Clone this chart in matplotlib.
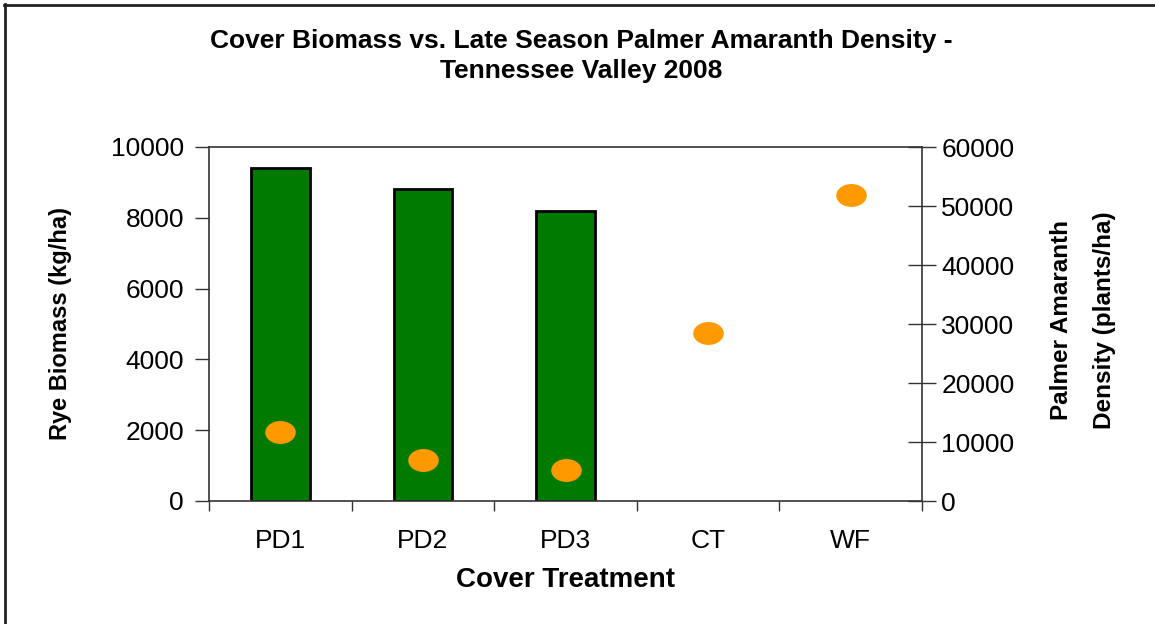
import matplotlib
matplotlib.use("Agg")
import matplotlib.pyplot as plt
import numpy as np
from matplotlib.path import Path
from matplotlib.lines import Line2D

categories = ["PD1", "PD2", "PD3", "CT", "WF"]
rye_biomass = [9400, 8800, 8200, 0, 0]
palmer_density = [11700, 6900, 5300, 28400, 51800]
y_left_ticks = [0, 2000, 4000, 6000, 8000, 10000]
y_right_ticks = [0, 10000, 20000, 30000, 40000, 50000, 60000]

plt.rcParams['font.family'] = ['Liberation Sans', 'DejaVu Sans']

fig = plt.figure(figsize=(11.55, 6.24), dpi=100)
ax = fig.add_axes([209/1155, 1-501/624, (922-209)/1155, (501-147)/624])
x = np.arange(len(categories))

bar_vals = rye_biomass[:3]
ax.bar(x[:3], bar_vals, width=0.41, color='#007A00', edgecolor='black', linewidth=2, zorder=2)
ax.set_xlim(-0.5, len(categories) - 0.5)
ax.set_ylim(0, 10000)
ax.set_yticks(y_left_ticks)
ax.set_yticklabels([str(v) for v in y_left_ticks], fontsize=19)
ax.set_xticks(x)
ax.set_xticklabels(categories, fontsize=19)
ax.tick_params(axis='x', which='major', length=0, pad=20)
ax.set_xticks(np.arange(-0.5, len(categories)), minor=True)
ax.tick_params(axis='x', which='minor', length=7, width=1, direction='out', color='#333333')
ax.tick_params(axis='y', length=10, width=1, direction='out', color='#333333', pad=8)
for s in ['left', 'bottom', 'top', 'right']:
    ax.spines[s].set_color('#333333')
    ax.spines[s].set_linewidth(1.2)
ax.set_ylabel("Rye Biomass (kg/ha)", fontsize=17, fontweight='bold', labelpad=28)
ax.set_xlabel("Cover Treatment", fontsize=20, fontweight='bold', labelpad=10)

ax2 = ax.twinx()
ax2.set_ylim(0, 60000)
ax2.set_yticks(y_right_ticks)
ax2.set_yticklabels([str(v) for v in y_right_ticks], fontsize=19)
ax2.tick_params(axis='y', length=20, width=1, direction='inout', color='#333333', pad=4)
for s in ['left', 'bottom', 'top', 'right']:
    ax2.spines[s].set_visible(False)

circ = Path.unit_circle()
ell = Path(circ.vertices * np.array([1.0, 0.75]), circ.codes)
ax2.plot(x, palmer_density, linestyle='none', marker=ell, markersize=22,
         color='#FF9900', markeredgewidth=0, zorder=3)

fig.text(1062/1155, 1-320/624, "Palmer Amaranth", rotation=90, fontsize=17.5,
         fontweight='bold', ha='center', va='center')
fig.text(1104/1155, 1-320/624, "Density (plants/ha)", rotation=90, fontsize=17.5,
         fontweight='bold', ha='center', va='center')

fig.text(581/1155, 1-41/624, "Cover Biomass vs. Late Season Palmer Amaranth Density -",
         fontsize=19, fontweight='bold', ha='center', va='center')
fig.text(581/1155, 1-71/624, "Tennessee Valley 2008",
         fontsize=19, fontweight='bold', ha='center', va='center')

fig.add_artist(Line2D([4/1155, 1], [1-4.5/624, 1-4.5/624], color='#222222', linewidth=2, transform=fig.transFigure))
fig.add_artist(Line2D([4.5/1155, 4.5/1155], [0, 1-4/624], color='#222222', linewidth=2, transform=fig.transFigure))

fig.savefig("out.png", dpi=100)
